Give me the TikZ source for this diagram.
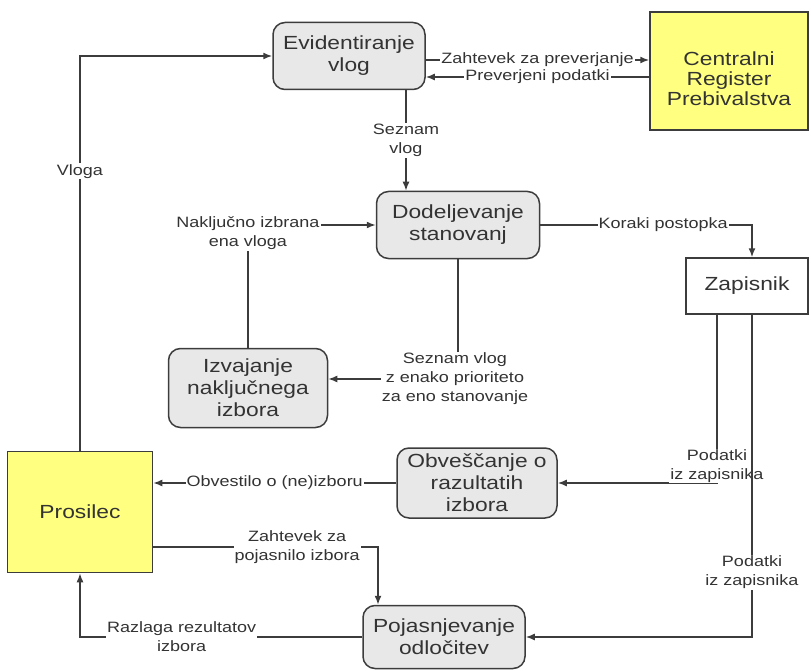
\documentclass[tikz,border=0pt]{standalone}
\usepackage{fontspec}
\setmainfont{Liberation Sans}[FakeStretch=1.2]
\usetikzlibrary{arrows.meta}
\definecolor{boxgray}{RGB}{232,232,232}
\definecolor{linegray}{RGB}{60,60,60}
\definecolor{extyellow}{RGB}{255,255,128}
\begin{document}
\begin{tikzpicture}[x=1pt,y=-1pt,line width=1.5pt]
\tikzset{process/.style={draw=linegray,fill=boxgray,rounded corners=12pt,align=center,
font=\fontsize{19}{22}\selectfont,text=black!80,inner sep=1pt},
external/.style={draw=linegray,fill=extyellow,align=center,
font=\fontsize{19}{20}\selectfont,text=black!80},
store/.style={draw=linegray,fill=white,font=\fontsize{19}{22}\selectfont,text=black!80},
flow/.style={draw=linegray,-{Latex[length=9pt,width=7pt]}},
flowlabel/.style={fill=white,align=center,inner sep=1pt,
font=\fontsize{15}{19}\selectfont,text=black!80},
}
\useasboundingbox (0,0) rectangle (811,671);

\node[process,minimum width=152pt,minimum height=67pt] (evid) at (349,56) {Evidentiranje\\vlog};
\node[external,minimum width=158pt,minimum height=118pt] (crp) at (729,71) {\rule{0pt}{30pt}Centralni\\Register\\Prebivalstva};
\node[process,minimum width=163pt,minimum height=67pt] (dodel) at (458,225) {Dodeljevanje\\stanovanj};
\node[process,minimum width=159pt,minimum height=79pt] (izv) at (248,388) {Izvajanje\\naključnega\\izbora};
\node[store,minimum width=122pt,minimum height=56pt] (zap) at (747,286) {Zapisnik};
\node[process,minimum width=160pt,minimum height=70pt] (obv) at (477,483) {Obveščanje o\\razultatih\\izbora};
\node[external,minimum width=145pt,minimum height=121pt] (pros) at (80,512) {Prosilec};
\node[process,minimum width=162pt,minimum height=63pt] (poj) at (444,637) {Pojasnjevanje\\odločitev};

\draw[flow] (pros.north) |- node[flowlabel,pos=0.354]{Vloga} (evid.west);
\draw[flow] ([yshift=-4pt]evid.east) -- node[flowlabel]{Zahtevek za preverjanje} ([yshift=-4pt]evid.east -| crp.west);
\draw[flow] ([yshift=-21pt]evid.east -| crp.west) -- node[flowlabel]{Preverjeni podatki} ([yshift=-21pt]evid.east);
\draw[flow] ([xshift=57pt]evid.south) -- node[flowlabel]{Seznam\\vlog} ([xshift=57pt]evid.south |- dodel.north);
\draw[flow] (izv.north) |- node[flowlabel,pos=0.5,yshift=-8pt]{Naključno izbrana\\ena vloga} (dodel.west);
\draw[flow] (dodel.south) |- node[flowlabel,pos=0.5,xshift=-3pt]{Seznam vlog\\z enako prioriteto\\za eno stanovanje} ([yshift=9pt]izv.east);
\draw[flow] (dodel.east) -| node[flowlabel,pos=0.29]{Koraki postopka} ([xshift=5pt]zap.north);
\draw[flow] ([xshift=-30pt]zap.south) |- node[flowlabel,pos=0.5,yshift=17pt]{Podatki\\iz zapisnika} (obv.east);
\draw[flow] ([xshift=5pt]zap.south) |- node[flowlabel,pos=0.40]{Podatki\\iz zapisnika} (poj.east);
\draw[flow] (obv.west) -- node[flowlabel]{Obvestilo o (ne)izboru} (obv.west -| pros.east);
\draw[flow] ([yshift=-35pt]pros.east) -| node[flowlabel,pos=0.32]{Zahtevek za\\pojasnilo izbora} ([xshift=-66pt]poj.north);
\draw[flow] (poj.west) -| node[flowlabel,pos=0.32]{Razlaga rezultatov\\izbora} (pros.south);
\end{tikzpicture}
\end{document}
